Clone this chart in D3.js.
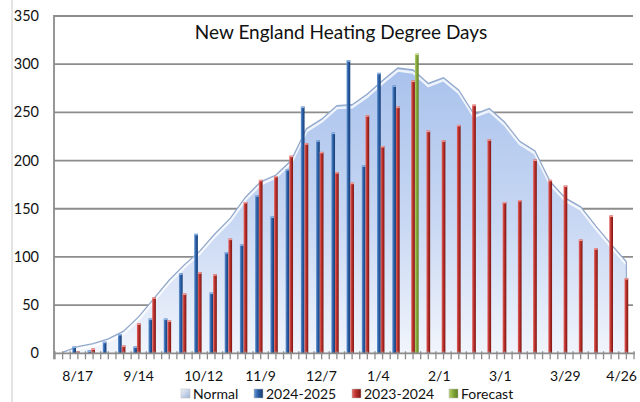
<!DOCTYPE html>
<html>
<head>
<meta charset="utf-8">
<script src="https://cdn.jsdelivr.net/npm/d3@7"></script>
<style>
  body { margin: 0; background: #fff; }
  svg { display: block; font-family: Lato, "Open Sans", sans-serif; }
</style>
</head>
<body>
<div id="chart"></div>
<script>
var width = 640
var height = 402

// weeks (week ending dates)
var weeks = ["8/10", "8/17", "8/24", "8/31", "9/7", "9/14", "9/21", "9/28", "10/5", "10/12",
    "10/19", "10/26", "11/2", "11/9", "11/16", "11/23", "11/30", "12/7", "12/14", "12/21",
    "12/28", "1/4", "1/11", "1/18", "1/25", "2/1", "2/8", "2/15", "2/22", "3/1",
    "3/8", "3/15", "3/22", "3/29", "4/5", "4/12", "4/19", "4/26"]
var tickLabels = ["8/17", "9/14", "10/12", "11/9", "12/7", "1/4", "2/1", "3/1", "3/29", "4/26"]
var yTicks = [0, 50, 100, 150, 200, 250, 300, 350]

var normal = [1, 7, 10, 15, 23, 38, 57, 76, 92, 106, 124, 140, 162, 178, 185, 200, 233, 243, 257, 258,
    269, 283, 296, 294, 280, 286, 273, 248, 254, 240, 220, 210, 178, 161, 152, 132, 113, 95]
var season2425 = [0, 7, 3, 12, 20, 7, 36, 36, 83, 124, 63, 105, 113, 164, 142, 191, 256, 221, 229, 304,
    195, 291, 278]
var season2324 = [0, 2, 5, 0, 8, 31, 58, 34, 62, 84, 82, 119, 157, 180, 184, 205, 218, 209, 188, 177,
    247, 215, 256, 283, 231, 221, 237, 258, 222, 157, 159, 201, 180, 174, 118, 109, 143, 78]
var forecastWeek = ["1/18"]
var forecast = [311]

var legendNames = ["Normal", "2024-2025", "2023-2024", "Forecast"]

var svg = d3.select('#chart')
    .append('svg')
    .attr('width', width)
    .attr('height', height)

var defs = svg.append('defs')

function barGradient(id, light, mid, dark) {
    var g = defs.append('linearGradient').attr('id', id)
        .attr('x1', '0%').attr('x2', '100%').attr('y1', '0%').attr('y2', '0%')
    g.append('stop').attr('offset', '0%').attr('stop-color', light)
    g.append('stop').attr('offset', '45%').attr('stop-color', mid)
    g.append('stop').attr('offset', '100%').attr('stop-color', dark)
}
barGradient('gBlue', '#6a9ad6', '#2c5fa6', '#173c72')
barGradient('gRed', '#e36a66', '#bb2f2a', '#7a1714')
barGradient('gGreen', '#b5d36a', '#86a83a', '#5d7d20')

var ag = defs.append('linearGradient').attr('id', 'gArea')
    .attr('x1', '0%').attr('x2', '0%').attr('y1', '0%').attr('y2', '100%')
ag.append('stop').attr('offset', '0%').attr('stop-color', '#a9c2ec')
ag.append('stop').attr('offset', '55%').attr('stop-color', '#c9d8f3')
ag.append('stop').attr('offset', '100%').attr('stop-color', '#f1f5fc')

var lg = defs.append('linearGradient').attr('id', 'gNorm')
    .attr('x1', '0%').attr('x2', '100%').attr('y1', '0%').attr('y2', '100%')
lg.append('stop').attr('offset', '0%').attr('stop-color', '#eef2fa')
lg.append('stop').attr('offset', '100%').attr('stop-color', '#9fb4d6')

var x = d3.scaleBand().domain(weeks).range([55, 634]).padding(0)
var slot = d3.scaleBand().domain(['b', 'r', 'g']).range([0, x.bandwidth()])
    .paddingInner(0).paddingOuter(0.55)
var y = d3.scaleLinear().domain([0, 350]).range([353.3, 16])

function cx(w) { return x(w) + x.bandwidth() / 2 }

// faint frame line on the left
svg.append('line').attr('x1', 12).attr('x2', 12).attr('y1', 0).attr('y2', height)
    .attr('stroke', '#e4e4e4').attr('stroke-width', 2)

// gridlines
svg.append('g').selectAll('line')
    .data(yTicks.filter(function (d) { return d > 0 }))
    .enter().append('line')
    .attr('x1', 54).attr('x2', 633)
    .attr('y1', function (d) { return y(d) }).attr('y2', function (d) { return y(d) })
    .attr('stroke', '#8c8c8c').attr('stroke-width', 1.8)

// y labels
svg.append('g').selectAll('text')
    .data(yTicks)
    .enter().append('text')
    .attr('x', 39).attr('y', function (d) { return y(d) })
    .attr('dy', '0.35em')
    .attr('text-anchor', 'end')
    .attr('font-size', 14.5)
    .attr('fill', '#111')
    .text(function (d) { return d })

// normal area
var normData = weeks.map(function (w, i) { return { w: w, v: normal[i] } })
var area = d3.area()
    .x(function (d) { return cx(d.w) })
    .y0(y(0))
    .y1(function (d) { return y(d.v) })
svg.append('path').datum(normData)
    .attr('d', area)
    .attr('fill', 'url(#gArea)')
var line = d3.line()
    .x(function (d) { return cx(d.w) })
    .y(function (d) { return y(d.v) })
svg.append('path').datum(normData)
    .attr('d', line)
    .attr('fill', 'none')
    .attr('stroke', '#ffffff').attr('stroke-opacity', 0.8)
    .attr('stroke-width', 2.5)
    .attr('transform', 'translate(0,2.5)')
svg.append('path').datum(normData)
    .attr('d', line)
    .attr('fill', 'none')
    .attr('stroke', '#93a9cc')
    .attr('stroke-width', 1.3)
// closing right edge
svg.append('line')
    .attr('x1', cx(weeks[weeks.length - 1])).attr('x2', cx(weeks[weeks.length - 1]))
    .attr('y1', y(normal[normal.length - 1])).attr('y2', y(0))
    .attr('stroke', '#93a9cc').attr('stroke-width', 1.2)

// bars
function drawBars(values, key, grad, cap) {
    var data = values.map(function (v, i) { return { w: key ? key[i] : weeks[i], v: v } })
        .filter(function (d) { return d.v > 0 })
    var g = svg.append('g')
    g.selectAll('rect.bar')
        .data(data)
        .enter().append('rect')
        .attr('class', 'bar')
        .attr('x', function (d) { return x(d.w) + slot(grad.k) })
        .attr('width', slot.bandwidth())
        .attr('y', function (d) { return y(d.v) })
        .attr('height', function (d) { return y(0) - y(d.v) })
        .attr('fill', grad.url)
    g.selectAll('rect.cap')
        .data(data)
        .enter().append('rect')
        .attr('class', 'cap')
        .attr('x', function (d) { return x(d.w) + slot(grad.k) })
        .attr('width', slot.bandwidth())
        .attr('y', function (d) { return y(d.v) })
        .attr('height', 1.5)
        .attr('fill', cap)
}
drawBars(season2425, null, { k: 'b', url: 'url(#gBlue)' }, '#8fb4e6')
drawBars(season2324, null, { k: 'r', url: 'url(#gRed)' }, '#ef9a96')
drawBars(forecast, forecastWeek, { k: 'g', url: 'url(#gGreen)' }, '#cfe59a')

// x axis
svg.append('line').attr('x1', 54).attr('x2', 635)
    .attr('y1', y(0)).attr('y2', y(0))
    .attr('stroke', '#8c8c8c').attr('stroke-width', 1.8)
svg.append('line').attr('x1', 54).attr('x2', 54)
    .attr('y1', y(350) - 1).attr('y2', y(0) + 6)
    .attr('stroke', '#8c8c8c').attr('stroke-width', 1.8)

var tickPos = []
weeks.forEach(function (w) { tickPos.push(x(w)); tickPos.push(cx(w)) })
tickPos.push(634)
svg.append('g').selectAll('line')
    .data(tickPos)
    .enter().append('line')
    .attr('x1', function (d) { return d }).attr('x2', function (d) { return d })
    .attr('y1', y(0) - 2).attr('y2', y(0) + 6)
    .attr('stroke', '#8c8c8c').attr('stroke-width', 1.3)

svg.append('g').selectAll('text')
    .data(tickLabels)
    .enter().append('text')
    .attr('x', function (d) { return cx(d) - x.bandwidth() - 0.3 })
    .attr('y', 381)
    .attr('font-size', 14)
    .attr('fill', '#111')
    .text(function (d) { return d })
    .each(function () {
        // keep the last label inside the picture
        var len = this.getComputedTextLength()
        var lx = +this.getAttribute('x')
        if (lx + len > width - 3) d3.select(this).attr('x', width - 3 - len)
    })

// title
svg.append('text')
    .attr('x', 341).attr('y', 39)
    .attr('text-anchor', 'middle')
    .attr('font-size', 19)
    .attr('fill', '#111')
    .text('New England Heating Degree Days')

// legend
var legendX = [181, 254, 352, 449]
var legendFill = ['url(#gNorm)', 'url(#gBlue)', 'url(#gRed)', 'url(#gGreen)']
var leg = svg.append('g').selectAll('g')
    .data(legendNames)
    .enter().append('g')
    .attr('transform', function (d, i) { return 'translate(' + legendX[i] + ',389)' })
leg.append('rect')
    .attr('width', 9).attr('height', 9)
    .attr('fill', function (d, i) { return legendFill[i] })
    .attr('stroke', '#bbb').attr('stroke-width', 0.5)
leg.append('text')
    .attr('x', 12).attr('y', 9.5)
    .attr('font-size', 14)
    .attr('fill', '#111')
    .text(function (d) { return d })
</script>
</body>
</html>
